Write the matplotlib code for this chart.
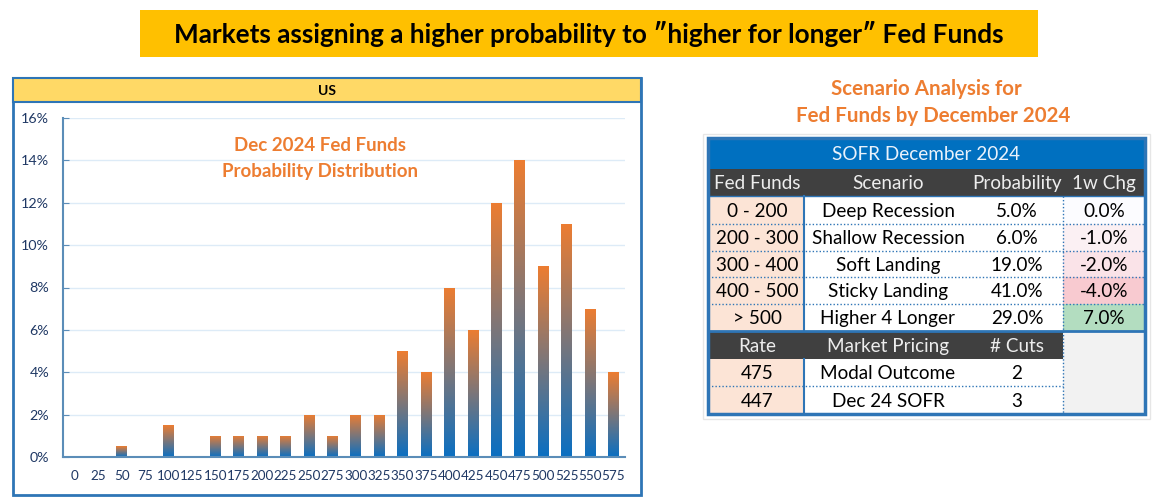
import numpy as np
import matplotlib.pyplot as plt
from matplotlib.colors import LinearSegmentedColormap, to_rgb
from matplotlib.patches import Rectangle

plt.rcParams['font.family'] = ['Lato', 'DejaVu Sans']

# Data
fed_rates = [0, 25, 50, 75, 100, 125, 150, 175, 200, 225, 250, 275,
             300, 325, 350, 375, 400, 425, 450, 475, 500, 525, 550, 575]
probs = [0, 0, 0.5, 0, 1.5, 0, 1, 1, 1, 1, 2, 1,
         2, 2, 5, 4, 8, 6, 12, 14, 9, 11, 7, 4]
y_ticks = [0, 2, 4, 6, 8, 10, 12, 14, 16]

fed_funds = ["0 - 200", "200 - 300", "300 - 400", "400 - 500", "> 500"]
scenarios = ["Deep Recession", "Shallow Recession", "Soft Landing",
             "Sticky Landing", "Higher 4 Longer"]
probability = [5.0, 6.0, 19.0, 41.0, 29.0]
chg_1w = [0.0, -1.0, -2.0, -4.0, 7.0]
header1 = ["Fed Funds", "Scenario", "Probability", "1w Chg"]
header2 = ["Rate", "Market Pricing", "# Cuts"]
rates = [475, 447]
pricing = ["Modal Outcome", "Dec 24 SOFR"]
cuts = [2, 3]

ORANGE = '#ED7D31'
BLUE = '#2E75B6'
NAVY = '#1F3864'

fig = plt.figure(figsize=(11.59, 4.98), dpi=100)

# layout layer in pixel coordinates
bg = fig.add_axes([0, 0, 1, 1], zorder=0)
bg.set_xlim(0, 1159)
bg.set_ylim(498, 0)
bg.axis('off')

# Title banner
bg.add_patch(Rectangle((140, 10), 898, 47, facecolor='#FFC000', edgecolor='none'))
bg.text(589, 34, "Markets assigning a higher probability to \u2033higher for longer\u2033 Fed Funds",
        ha='center', va='center', fontsize=18.8, fontweight='bold', color='black')

# Chart panel
bg.add_patch(Rectangle((13, 78), 628, 417, facecolor='white', edgecolor=BLUE, lw=2))
bg.add_patch(Rectangle((13, 78), 628, 24, facecolor='#FFD966', edgecolor=BLUE, lw=1.5))
bg.text(327, 90.5, "US", ha='center', va='center', fontsize=10, fontweight='bold')
bg.text(320, 145, "Dec 2024 Fed Funds", ha='center', va='center',
        fontsize=13.5, fontweight='bold', color=ORANGE, zorder=5)
bg.text(320, 171, "Probability Distribution", ha='center', va='center',
        fontsize=13.5, fontweight='bold', color=ORANGE, zorder=5)

# Bar chart
ax = fig.add_axes([63 / 1159, 41 / 498, 562 / 1159, 339 / 498], zorder=1)
ax.set_facecolor('none')
x = np.arange(len(fed_rates))
bars = ax.bar(x, probs, width=0.45, color='none', edgecolor='none')
cmap = LinearSegmentedColormap.from_list('bo', ['#0A6FC2', ORANGE])
grad = np.linspace(0, 1, 256).reshape(-1, 1)
for b, p in zip(bars, probs):
    if p <= 0:
        continue
    im = ax.imshow(grad, cmap=cmap, aspect='auto', origin='lower',
                   extent=[b.get_x(), b.get_x() + b.get_width(), 0, p], zorder=2)
    im.set_clip_path(b)
ax.set_xlim(-0.5, len(fed_rates) - 0.5)
ax.set_ylim(0, 16)
ax.set_xticks(x)
ax.set_xticklabels([str(r) for r in fed_rates])
ax.set_yticks(y_ticks)
ax.set_yticklabels([f"{t}%" for t in y_ticks])
ax.tick_params(axis='x', length=0, pad=9, labelsize=9.7, colors=NAVY)
ax.tick_params(axis='y', direction='in', length=4, color='#5B8DB8', labelsize=10.3,
               labelcolor=NAVY, pad=10)
ax.grid(axis='y', color='#DDEBF7', lw=1)
ax.set_axisbelow(True)
for s in ['top', 'right']:
    ax.spines[s].set_visible(False)
for s in ['left', 'bottom']:
    ax.spines[s].set_color('#5B8DB8')
    ax.spines[s].set_linewidth(1.5)

# Scenario titles
bg.text(926, 89, "Scenario Analysis for", ha='center', va='center',
        fontsize=14.8, fontweight='bold', color=ORANGE)
bg.text(933, 116, "Fed Funds by December 2024", ha='center', va='center',
        fontsize=14.8, fontweight='bold', color=ORANGE)

# Table
cx = [708, 804, 952, 1063, 1145]
centers = [757, 888, 1017, 1104]
ry = [138, 169, 196, 224, 251, 277, 304, 331, 359, 386, 414]
tfs = 13.6


def chg_color(v):
    # conditional formatting style: red scale for falls, green for rises
    if v > 0:
        return '#B3DDC0'
    w = np.array(to_rgb('#FCFCFF'))
    r = np.array(to_rgb('#F8CAD0'))
    t = min(abs(v) / 4.0, 1.0)
    return tuple(w + (r - w) * t)


bg.add_patch(Rectangle((703, 134), 447, 285, facecolor='none', edgecolor='#E6E6E6', lw=1))
# title row
bg.add_patch(Rectangle((cx[0], ry[0]), cx[4] - cx[0], ry[1] - ry[0], facecolor='#0070C0', edgecolor='none'))
bg.text((cx[0] + cx[4]) / 2, (ry[0] + ry[1]) / 2 + 1, "SOFR December 2024", ha='center', va='center',
        fontsize=tfs, color='#EAF2FB')
# header rows
for r0, r1, hdr in [(ry[1], ry[2], header1), (ry[7], ry[8], header2)]:
    w = cx[4] - cx[0] if len(hdr) == 4 else cx[3] - cx[0]
    bg.add_patch(Rectangle((cx[0], r0), w, r1 - r0, facecolor='#404040', edgecolor='none'))
    for c, h in zip(centers, hdr):
        bg.text(c, (r0 + r1) / 2 + 1, h, ha='center', va='center', fontsize=tfs, color='#EDEDED')

# scenario rows
for i in range(len(fed_funds)):
    r0, r1 = ry[2 + i], ry[3 + i]
    ym = (r0 + r1) / 2 + 1
    bg.add_patch(Rectangle((cx[0], r0), cx[1] - cx[0], r1 - r0, facecolor='#FCE4D6', edgecolor='none'))
    bg.add_patch(Rectangle((cx[3], r0), cx[4] - cx[3], r1 - r0, facecolor=chg_color(chg_1w[i]), edgecolor='none'))
    bg.text(centers[0], ym, fed_funds[i], ha='center', va='center', fontsize=tfs)
    bg.text(centers[1], ym, scenarios[i], ha='center', va='center', fontsize=tfs)
    bg.text(centers[2], ym, f"{probability[i]:.1f}%", ha='center', va='center', fontsize=tfs)
    bg.text(centers[3], ym, f"{chg_1w[i]:.1f}%", ha='center', va='center', fontsize=tfs)

# pricing rows
bg.add_patch(Rectangle((cx[3], ry[7]), cx[4] - cx[3], ry[10] - ry[7], facecolor='#F2F2F2', edgecolor='none'))
for i in range(len(rates)):
    r0, r1 = ry[8 + i], ry[9 + i]
    ym = (r0 + r1) / 2 + 1
    bg.add_patch(Rectangle((cx[0], r0), cx[1] - cx[0], r1 - r0, facecolor='#FCE4D6', edgecolor='none'))
    bg.text(centers[0], ym, str(rates[i]), ha='center', va='center', fontsize=tfs)
    bg.text(centers[1], ym, pricing[i], ha='center', va='center', fontsize=tfs)
    bg.text(centers[2], ym, str(cuts[i]), ha='center', va='center', fontsize=tfs)

# grid lines of table
for yy in [ry[3], ry[4], ry[5], ry[6], ry[9]]:
    bg.plot([cx[0], cx[4] if yy != ry[9] else cx[3]], [yy, yy], color=BLUE, lw=1, ls=(0, (1, 1.5)))
bg.plot([cx[3], cx[3]], [ry[2], ry[7]], color=BLUE, lw=1, ls=(0, (1, 1.5)))
bg.plot([cx[3], cx[3]], [ry[7], ry[10]], color=BLUE, lw=1, ls=(0, (1, 1.5)))
for r0, r1 in [(ry[2], ry[7]), (ry[8], ry[10])]:
    bg.plot([cx[1], cx[1]], [r0, r1], color=BLUE, lw=1.5)
bg.plot([cx[0], cx[4]], [ry[2], ry[2]], color=BLUE, lw=1)
bg.plot([cx[0], cx[4]], [ry[7], ry[7]], color=BLUE, lw=2)
bg.add_patch(Rectangle((cx[0], ry[0]), cx[4] - cx[0], ry[10] - ry[0], facecolor='none', edgecolor=BLUE, lw=2.5))

fig.savefig('out.png', dpi=100)
